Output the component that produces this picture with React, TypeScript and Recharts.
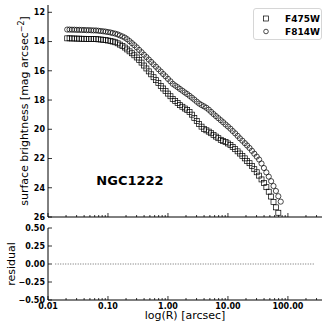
import React from "react";
import { ScatterChart, Scatter, XAxis, YAxis, Legend, Label, ReferenceLine, ReferenceDot } from "recharts";

const FONT = "DejaVu Sans";

// radii of the isophotes (arcsec)
const RADIUS = [
  0.0209, 0.0229, 0.0251, 0.0275, 0.0302, 0.0331, 0.0363, 0.0398, 0.0437, 0.0479,
  0.0525, 0.0575, 0.0631, 0.0692, 0.0759, 0.0832, 0.0912, 0.1, 0.11, 0.12,
  0.132, 0.145, 0.158, 0.174, 0.191, 0.209, 0.229, 0.251, 0.275, 0.302,
  0.331, 0.363, 0.398, 0.437, 0.479, 0.525, 0.575, 0.631, 0.692, 0.759,
  0.832, 0.912, 1.0, 1.1, 1.2, 1.32, 1.45, 1.58, 1.74, 1.91,
  2.09, 2.29, 2.51, 2.75, 3.02, 3.31, 3.63, 3.98, 4.37, 4.79,
  5.25, 5.75, 6.31, 6.92, 7.59, 8.32, 9.12, 10.0, 11.0, 12.0,
  13.2, 14.5, 15.8, 17.4, 19.1, 20.9, 22.9, 25.1, 27.5, 30.2,
  33.1, 36.3, 39.8, 43.7, 47.9, 52.5, 57.5, 63.1, 69.2, 75.9,
];

const MU_F475W = [
  13.78, 13.78, 13.79, 13.79, 13.8, 13.8, 13.81, 13.81, 13.82, 13.82,
  13.83, 13.83, 13.83, 13.85, 13.86, 13.88, 13.9, 13.93, 13.96, 14.0,
  14.05, 14.12, 14.21, 14.31, 14.41, 14.54, 14.67, 14.8, 14.94, 15.09,
  15.26, 15.44, 15.64, 15.84, 16.04, 16.24, 16.44, 16.64, 16.84, 17.03,
  17.21, 17.38, 17.56, 17.74, 17.92, 18.06, 18.2, 18.35, 18.46, 18.58,
  18.69, 18.81, 19.0, 19.22, 19.43, 19.63, 19.82, 19.97, 20.07, 20.16,
  20.27, 20.38, 20.5, 20.61, 20.72, 20.8, 20.88, 20.97, 21.07, 21.21,
  21.36, 21.51, 21.66, 21.83, 21.99, 22.16, 22.32, 22.52, 22.73, 22.94,
  23.17, 23.43, 23.68, 23.96, 24.27, 24.6, 24.97, 25.34, 25.71,
];

const MU_F814W = [
  13.18, 13.18, 13.19, 13.19, 13.2, 13.2, 13.21, 13.21, 13.22, 13.22,
  13.23, 13.24, 13.24, 13.26, 13.28, 13.3, 13.32, 13.35, 13.38, 13.42,
  13.46, 13.51, 13.58, 13.65, 13.73, 13.84, 13.97, 14.11, 14.25, 14.4,
  14.57, 14.73, 14.9, 15.06, 15.23, 15.39, 15.56, 15.72, 15.89, 16.05,
  16.22, 16.38, 16.55, 16.72, 16.89, 17.01, 17.12, 17.24, 17.36, 17.48,
  17.59, 17.71, 17.84, 17.97, 18.11, 18.24, 18.34, 18.43, 18.53, 18.66,
  18.81, 18.96, 19.1, 19.24, 19.38, 19.52, 19.67, 19.81, 19.96, 20.12,
  20.28, 20.45, 20.62, 20.78, 20.95, 21.11, 21.28, 21.47, 21.67, 21.87,
  22.07, 22.34, 22.65, 22.95, 23.24, 23.55, 23.88, 24.22, 24.58, 24.95,
];

const SERIES = ["F475W", "F814W"];

// zero residual line end points
const RES_R = [0.0132, 270];
const RES_VAL = [0, 0];

const X_DOMAIN = [0.01, 370];
const X_MAJOR = [0.01, 0.1, 1, 10, 100];
const X_MINOR = [
  0.02, 0.03, 0.04, 0.05, 0.06, 0.07, 0.08, 0.09,
  0.2, 0.3, 0.4, 0.5, 0.6, 0.7, 0.8, 0.9,
  2, 3, 4, 5, 6, 7, 8, 9,
  20, 30, 40, 50, 60, 70, 80, 90,
  200, 300,
];
const X_TICKS = [...X_MAJOR, ...X_MINOR].sort((a, b) => a - b);
const MU_TICKS = [12, 14, 16, 18, 20, 22, 24, 26];
const RES_TICKS = [-0.5, -0.25, 0, 0.25, 0.5];

const f475 = MU_F475W.map((mu, i) => ({ r: RADIUS[i], mu }));
const f814 = MU_F814W.map((mu, i) => ({ r: RADIUS[i], mu }));

const AXIS = { stroke: "#000", strokeWidth: 1 };
const tickFont = { fontFamily: FONT, fontSize: 8, fontWeight: "bold" as const, fill: "#000" };

const xTick = (side: "top" | "bottom", withLabel: boolean) => (p: any) => {
  const v = p.payload.value;
  const major = X_MAJOR.includes(v);
  const len = major ? 4 : 2;
  const dir = side === "bottom" ? -1 : 1;
  return (
    <g>
      <line x1={p.x} x2={p.x} y1={p.y} y2={p.y + dir * len} stroke="#000" strokeWidth={0.8} />
      {withLabel && major && (
        <text x={p.x} y={p.y + 8.5} textAnchor="middle" {...tickFont}>
          {v.toFixed(2)}
        </text>
      )}
    </g>
  );
};

const yTick = (side: "left" | "right", fmt?: (v: number) => string) => (p: any) => {
  const v = p.payload.value;
  const dir = side === "left" ? 1 : -1;
  return (
    <g>
      <line x1={p.x} x2={p.x + dir * 4} y1={p.y} y2={p.y} stroke="#000" strokeWidth={0.8} />
      {fmt && (
        <text x={p.x - 3} y={p.y} dy="0.36em" textAnchor="end" {...tickFont}>
          {fmt(v)}
        </text>
      )}
    </g>
  );
};

const fmtRes = (v: number) => v.toFixed(2).replace("-", "\u2212");

const squareShape = (p: any) => (
  <rect x={p.cx - 2.5} y={p.cy - 2.5} width={5} height={5} fill="none" stroke="#000" strokeWidth={0.7} />
);
const circleShape = (p: any) => (
  <circle cx={p.cx} cy={p.cy} r={2.6} fill="none" stroke="#000" strokeWidth={0.7} />
);

const legendContent = () => (
  <div
    style={{
      width: 69,
      height: 32,
      boxSizing: "border-box",
      border: "1px solid #d6d6d6",
      borderRadius: 3,
      background: "rgba(255,255,255,0.8)",
      fontFamily: FONT,
      fontWeight: "bold",
      fontSize: 9,
      paddingTop: 3,
    }}
  >
    {SERIES.map((name, i) => (
      <div key={name} style={{ display: "flex", alignItems: "center", height: 13 }}>
        <svg width={24} height={13}>
          {i === 0 ? (
            <rect x={9.5} y={4} width={5} height={5} fill="none" stroke="#000" strokeWidth={0.7} />
          ) : (
            <circle cx={12} cy={6.5} r={2.3} fill="none" stroke="#000" strokeWidth={0.7} />
          )}
        </svg>
        <span style={{ marginLeft: 7 }}>{name}</span>
      </div>
    ))}
  </div>
);

const sideLabel = (dx: number, content: React.ReactNode) => (props: any) => {
  const vb = props.viewBox;
  const cx = vb.x + dx;
  const cy = vb.y + vb.height / 2;
  return (
    <text
      x={cx}
      y={cy}
      dy="0.36em"
      textAnchor="middle"
      transform={`rotate(-90 ${cx} ${cy})`}
      fontFamily={FONT}
      fontSize={11}
      fill="#000"
    >
      {content}
    </text>
  );
};

export default function App() {
  return (
    <div style={{ position: "absolute", left: 0, top: 0, width: 332, height: 328, background: "#fff" }}>
      <div style={{ position: "absolute", left: 0, top: 0 }}>
        <ScatterChart width={332} height={222} margin={{ top: 5, right: 10, bottom: 0, left: 0 }}>
          <XAxis
            xAxisId="b"
            dataKey="r"
            type="number"
            scale="log"
            domain={X_DOMAIN}
            allowDataOverflow
            ticks={X_TICKS}
            interval={0}
            height={5}
            tickSize={0}
            tickMargin={0}
            tickLine={false}
            axisLine={AXIS}
            tick={xTick("bottom", false)}
          />
          <XAxis
            xAxisId="t"
            orientation="top"
            type="number"
            scale="log"
            domain={X_DOMAIN}
            allowDataOverflow
            ticks={X_TICKS}
            interval={0}
            height={0}
            tickSize={0}
            tickMargin={0}
            tickLine={false}
            axisLine={AXIS}
            tick={xTick("top", false)}
          />
          <YAxis
            yAxisId="l"
            dataKey="mu"
            type="number"
            domain={[11.5, 26]}
            reversed
            allowDataOverflow
            ticks={MU_TICKS}
            interval={0}
            width={48}
            tickSize={0}
            tickMargin={0}
            tickLine={false}
            axisLine={AXIS}
            tick={yTick("left", (v) => String(v))}
          >
            <Label
              content={sideLabel(
                24,
                <>
                  surface brightness [mag arcsec
                  <tspan dy={-4} fontSize={8}>
                    {"\u22122"}
                  </tspan>
                  <tspan dy={4}>]</tspan>
                </>
              )}
            />
          </YAxis>
          <YAxis
            yAxisId="r"
            orientation="right"
            type="number"
            domain={[11.5, 26]}
            reversed
            allowDataOverflow
            ticks={MU_TICKS}
            interval={0}
            width={0}
            tickSize={0}
            tickMargin={0}
            tickLine={false}
            axisLine={AXIS}
            tick={yTick("right")}
          />
          <Scatter xAxisId="b" yAxisId="l" name={SERIES[0]} data={f475} shape={squareShape} isAnimationActive={false} />
          <Scatter xAxisId="b" yAxisId="l" name={SERIES[1]} data={f814} shape={circleShape} isAnimationActive={false} />
          <ReferenceDot
            xAxisId="b"
            yAxisId="l"
            x={0.233}
            y={23.47}
            r={0}
            fill="none"
            stroke="none"
            label={{ value: "NGC1222", position: "center", fontFamily: FONT, fontWeight: "bold", fontSize: 13, fill: "#000" }}
          />
          <Legend
            layout="vertical"
            align="center"
            verticalAlign="middle"
            wrapperStyle={{ left: 253, top: 8, width: 69, height: 32 }}
            content={legendContent}
          />
        </ScatterChart>
      </div>
      <div style={{ position: "absolute", left: 0, top: 222 }}>
        <ScatterChart width={332} height={106} margin={{ top: 6, right: 10, bottom: 0, left: 0 }}>
          <XAxis
            xAxisId="b"
            dataKey="r"
            type="number"
            scale="log"
            domain={X_DOMAIN}
            allowDataOverflow
            ticks={X_TICKS}
            interval={0}
            height={28}
            tickSize={0}
            tickMargin={0}
            tickLine={false}
            axisLine={AXIS}
            tick={xTick("bottom", true)}
          >
            <Label
              content={(props: any) => {
                const vb = props.viewBox;
                return (
                  <text x={vb.x + vb.width / 2} y={vb.y + 19} textAnchor="middle" fontFamily={FONT} fontSize={11} fill="#000">
                    log(R) [arcsec]
                  </text>
                );
              }}
            />
          </XAxis>
          <XAxis
            xAxisId="t"
            orientation="top"
            type="number"
            scale="log"
            domain={X_DOMAIN}
            allowDataOverflow
            ticks={X_TICKS}
            interval={0}
            height={0}
            tickSize={0}
            tickMargin={0}
            tickLine={false}
            axisLine={AXIS}
            tick={xTick("top", false)}
          />
          <YAxis
            yAxisId="l"
            dataKey="v"
            type="number"
            domain={[-0.5, 0.5]}
            allowDataOverflow
            ticks={RES_TICKS}
            interval={0}
            width={48}
            tickSize={0}
            tickMargin={0}
            tickLine={false}
            axisLine={AXIS}
            tick={yTick("left", fmtRes)}
          >
            <Label content={sideLabel(11, "residual")} />
          </YAxis>
          <YAxis
            yAxisId="r"
            orientation="right"
            type="number"
            domain={[-0.5, 0.5]}
            allowDataOverflow
            ticks={RES_TICKS}
            interval={0}
            width={0}
            tickSize={0}
            tickMargin={0}
            tickLine={false}
            axisLine={AXIS}
            tick={yTick("right")}
          />
          <ReferenceLine
            xAxisId="b"
            yAxisId="l"
            segment={[
              { x: RES_R[0], y: RES_VAL[0] },
              { x: RES_R[1], y: RES_VAL[1] },
            ]}
            stroke="#444"
            strokeWidth={0.8}
            strokeDasharray="1 1.5"
          />
        </ScatterChart>
      </div>
    </div>
  );
}
